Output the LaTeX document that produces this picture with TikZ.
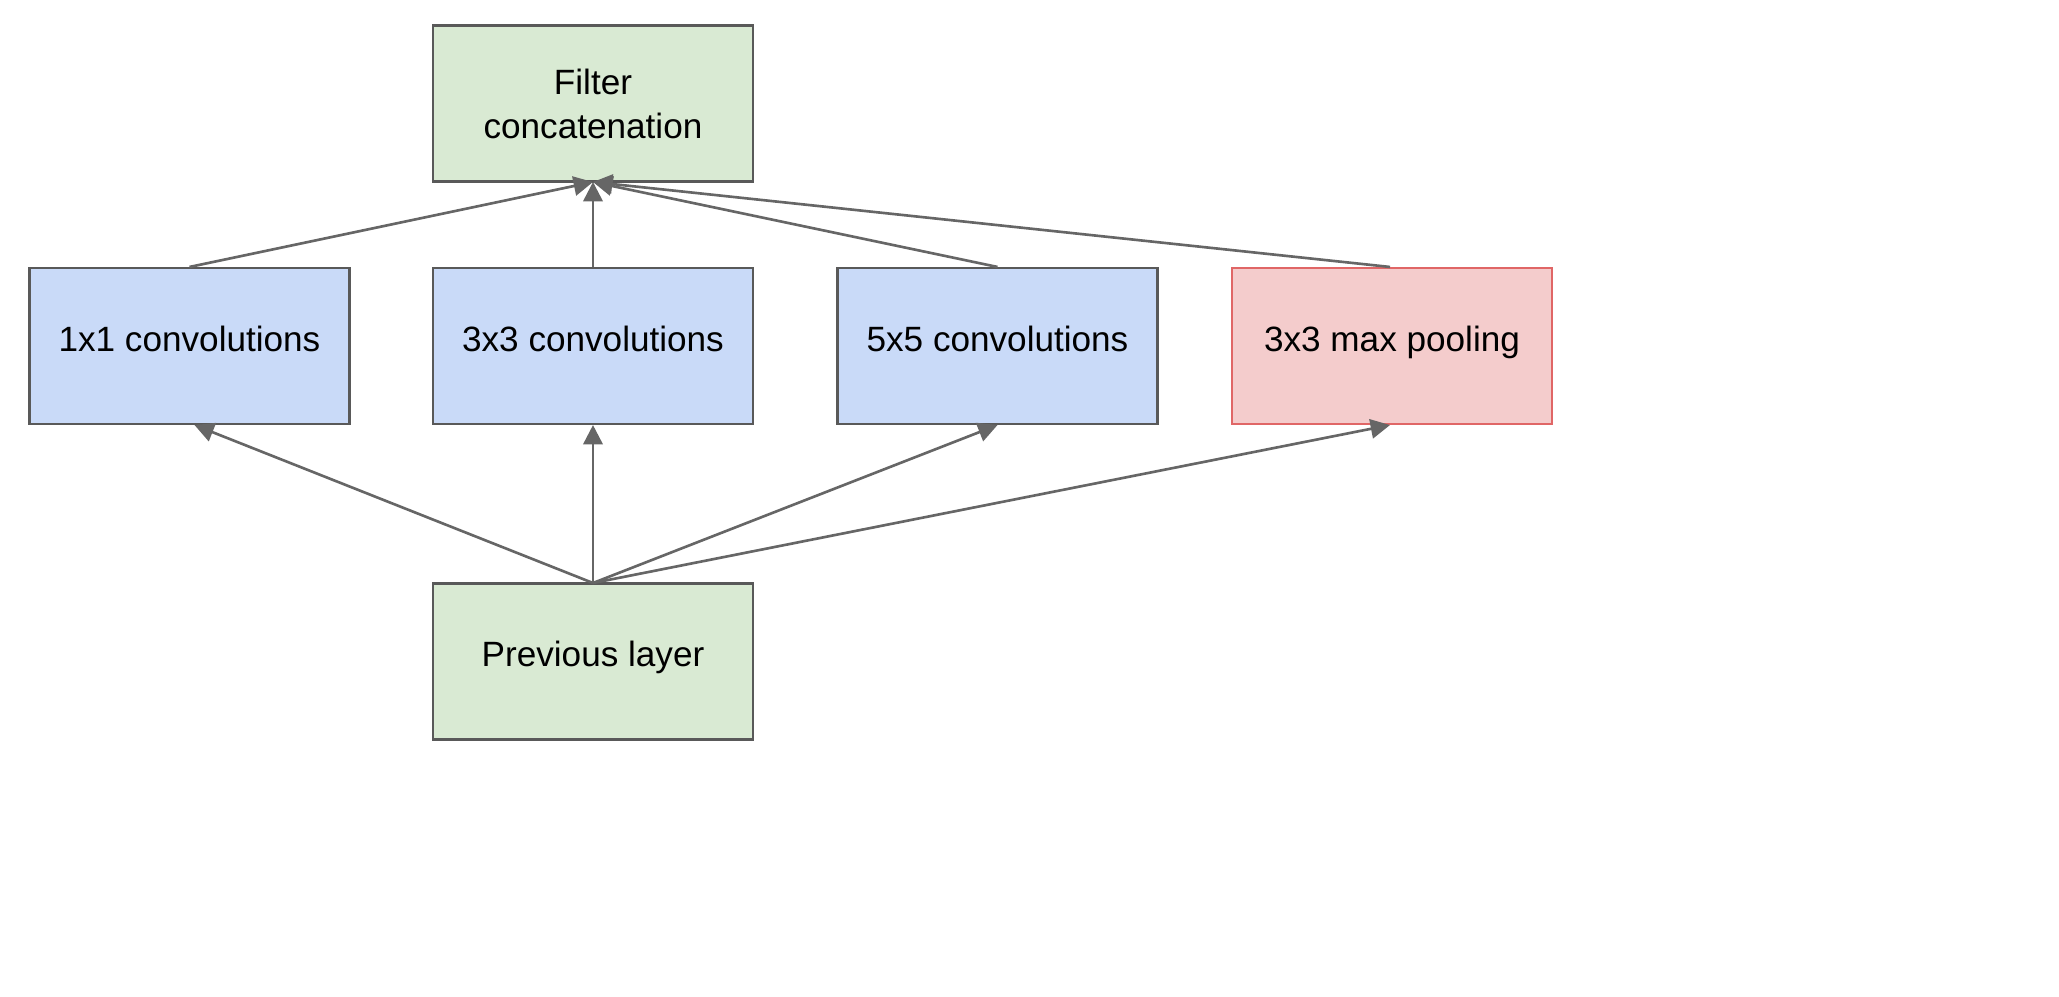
\documentclass[tikz,border=0pt]{standalone}
\usepackage{fontspec}
\setmainfont{Liberation Sans}
\usetikzlibrary{arrows.meta}
\definecolor{gfill}{HTML}{D9EAD3}
\definecolor{bfill}{HTML}{C9DAF8}
\definecolor{pfill}{HTML}{F4CCCC}
\definecolor{pline}{HTML}{E06666}
\definecolor{bline}{HTML}{595959}
\definecolor{aline}{HTML}{666666}
\begin{document}
\begin{tikzpicture}[x=0.02cm,y=-0.02cm,
 box/.style={draw=bline,line width=1.2pt,minimum width=6.4cm,minimum height=3.12cm,inner sep=0pt,align=center,font=\fontsize{20}{25}\selectfont},
 one/.style={text height=1.5ex,text depth=0.4ex},
 arr/.style={draw=aline,line width=1.5pt,-{Triangle[length=11pt,width=11pt]}}]
\useasboundingbox (0,0) rectangle (2059,997);
\node[box,fill=gfill] (fc) at (593,103.5) {Filter\\concatenation};
\node[box,one,fill=bfill] (c1) at (189.5,346) {1x1 convolutions};
\node[box,one,fill=bfill] (c3) at (593,346) {3x3 convolutions};
\node[box,one,fill=bfill] (c5) at (997.5,346) {5x5 convolutions};
\node[box,one,fill=pfill,draw=pline] (mp) at (1392,346) {3x3 max pooling};
\node[box,one,fill=gfill] (pl) at (593,661.5) {Previous layer};
\coordinate (plt) at (593,583);
\coordinate (fcb) at (593,182);
\draw[arr] (plt) -- ([xshift=0.1cm]c1.south);
\draw[arr] (plt) -- (c3.south);
\draw[arr] (plt) -- (c5.south);
\draw[arr] (plt) -- ([xshift=-0.04cm]mp.south);
\draw[arr] (c1.north) -- (fcb);
\draw[arr] (c3.north) -- (fcb);
\draw[arr] (c5.north) -- (fcb);
\draw[arr] ([xshift=-0.04cm]mp.north) -- (fcb);
\end{tikzpicture}
\end{document}
